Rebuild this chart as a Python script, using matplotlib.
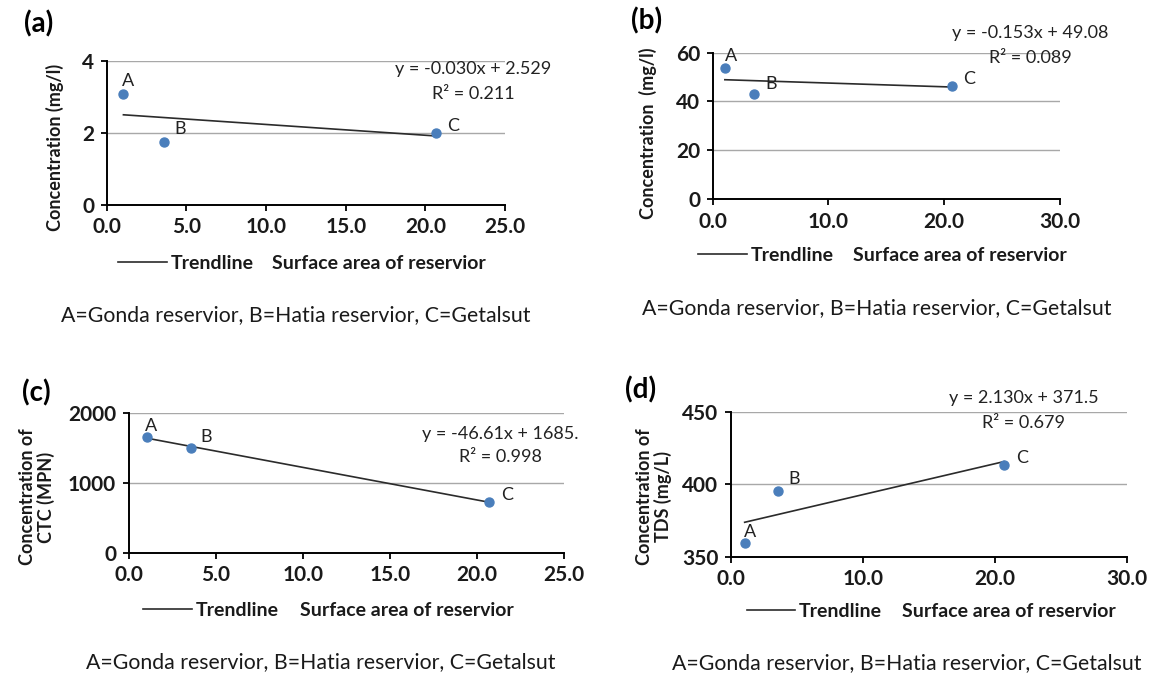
import matplotlib
matplotlib.use("Agg")
import matplotlib.pyplot as plt

plt.rcParams['font.family'] = ['Lato', 'DejaVu Sans']

W, H = 1150, 676

# reservoirs: A=Gonda, B=Hatia, C=Getalsut
names = ['A', 'B', 'C']
area = [1.05, 3.6, 20.7]          # surface area of reservoir

conc_a = [3.07, 1.75, 2.0]        # (a) concentration mg/l
conc_b = [53.6, 42.9, 46.4]       # (b) concentration mg/l
ctc_c = [1649, 1491, 720]         # (c) CTC (MPN)
tds_d = [359.7, 395.5, 413.2]     # (d) TDS mg/L

slopes = [-0.030, -0.153, -46.61, 2.130]
intercepts = [2.529, 49.08, 1685.0, 371.5]
equations = ["y = -0.030x + 2.529", "y = -0.153x + 49.08",
             "y = -46.61x + 1685.", "y = 2.130x + 371.5"]
r2_labels = ["R² = 0.211", "R² = 0.089", "R² = 0.998", "R² = 0.679"]

ylabels = ["Concentration (mg/l)", "Concentration  (mg/l)",
           "Concentration of\nCTC (MPN)", "Concentration of\nTDS (mg/L)"]
panel_tags = ["(a)", "(b)", "(c)", "(d)"]
yticks = [[0, 2, 4], [0, 20, 40, 60], [0, 1000, 2000], [350, 400, 450]]
xticks = [[0, 5, 10, 15, 20, 25], [0, 10, 20, 30],
          [0, 5, 10, 15, 20, 25], [0, 10, 20, 30]]
caption = "A=Gonda reservior, B=Hatia reservior, C=Getalsut"

# layout in pixels
boxes = [(106.7, 60.7, 505, 204.7), (712.7, 52.7, 1060, 199),
         (128.6, 412.7, 564.3, 552.7), (730.8, 411.7, 1126.7, 556.7)]
tag_pos = [(39, 24), (647, 21), (36, 393), (641, 390)]
ylab_pos = [(55, 147), (648, 133), (37, 497), (654, 497)]
eq_pos = [(473.5, 69, 94), (1030.3, 33.3, 58.3), (500, 434, 457.3), (1024, 398.3, 423.3)]
leg_pos = [(118.3, 263.3), (698.3, 255.7), (143.3, 610), (746.7, 611.7)]
xlab_pos = [(271.7, 263.3), (853.3, 255.7), (300, 610), (901.7, 611.7)]
cap_pos = [(295.5, 315), (876.7, 308.3), (320.3, 661.7), (906.7, 663.3)]
lab_off = [[(5, 13.6), (16, 12.4), (17, 7)],
           [(6, 12), (17, 10), (17, 7)],
           [(4, 11), (15, 11), (18, 7)],
           [(5, 11), (16, 12), (18, 7)]]

series = [conc_a, conc_b, ctc_c, tds_d]

fig = plt.figure(figsize=(W / 100, H / 100), dpi=100)
fx = lambda px: px / W
fy = lambda py: 1 - py / H

for i in range(4):
    l, t, r, b = boxes[i]
    ax = fig.add_axes([fx(l), fy(b), (r - l) / W, (b - t) / H])
    yv = series[i]

    ax.scatter(area, yv, s=42, color='#4a7ebb', zorder=3)
    xs = [min(area), max(area)]
    ys = [slopes[i] * x + intercepts[i] for x in xs]
    ax.plot(xs, ys, color='#2b2b2b', lw=1.2, zorder=2, label='Trendline')

    for n, x, y, off in zip(names, area, yv, lab_off[i]):
        ax.annotate(n, (x, y), xytext=off, textcoords='offset pixels',
                    ha='center', va='center', fontsize=13, color='#222222')

    ax.set_xlim(xticks[i][0], xticks[i][-1])
    ax.set_ylim(yticks[i][0], yticks[i][-1])
    ax.set_xticks(xticks[i])
    ax.set_xticklabels([f"{v:.1f}" for v in xticks[i]])
    ax.set_yticks(yticks[i])
    ax.tick_params(direction='out', length=4, width=1.3, labelsize=15,
                   colors='black', pad=5)
    for lab in ax.get_xticklabels() + ax.get_yticklabels():
        lab.set_fontweight('bold')
        lab.set_color('#1a1a1a')
    ax.spines['top'].set_visible(False)
    ax.spines['right'].set_visible(False)
    ax.spines['left'].set_linewidth(1.4)
    ax.spines['bottom'].set_linewidth(1.4)
    ax.yaxis.grid(True, color='#a8a8a8', lw=1.0)
    ax.set_axisbelow(True)
    ax.patch.set_alpha(0)

    ax.set_ylabel(ylabels[i], fontsize=13, fontweight='bold',
                  color='#1a1a1a', linespacing=1.0)
    ax.yaxis.set_label_coords(fx(ylab_pos[i][0]), fy(ylab_pos[i][1]),
                              transform=fig.transFigure)
    ax.yaxis.label.set_va('center')
    ax.set_xlabel("Surface area of reservior", fontsize=14,
                  fontweight='bold', color='#1a1a1a')
    ax.xaxis.set_label_coords(fx(xlab_pos[i][0]), fy(xlab_pos[i][1]),
                              transform=fig.transFigure)
    ax.xaxis.label.set_va('center')
    ax.xaxis.label.set_ha('left')

    leg = ax.legend(loc='center left', bbox_to_anchor=(fx(leg_pos[i][0]), fy(leg_pos[i][1])),
                    bbox_transform=fig.transFigure, frameon=False, borderpad=0,
                    borderaxespad=0, handlelength=2.5, handletextpad=0.2,
                    prop={'size': 14, 'weight': 'bold'})
    for txt in leg.get_texts():
        txt.set_color('#1a1a1a')

    ex, ey1, ey2 = eq_pos[i]
    fig.text(fx(ex), fy(ey1), equations[i], ha='center', va='center',
             fontsize=13, color='#222222')
    fig.text(fx(ex), fy(ey2), r2_labels[i], ha='center', va='center',
             fontsize=13, color='#222222')

    fig.text(fx(tag_pos[i][0]), fy(tag_pos[i][1]), panel_tags[i], ha='center',
             va='center', fontsize=20, fontweight='bold', color='black')
    fig.text(fx(cap_pos[i][0]), fy(cap_pos[i][1]), caption, ha='center',
             va='center', fontsize=15.3, color='#1a1a1a')

fig.savefig('out.png', dpi=100)
